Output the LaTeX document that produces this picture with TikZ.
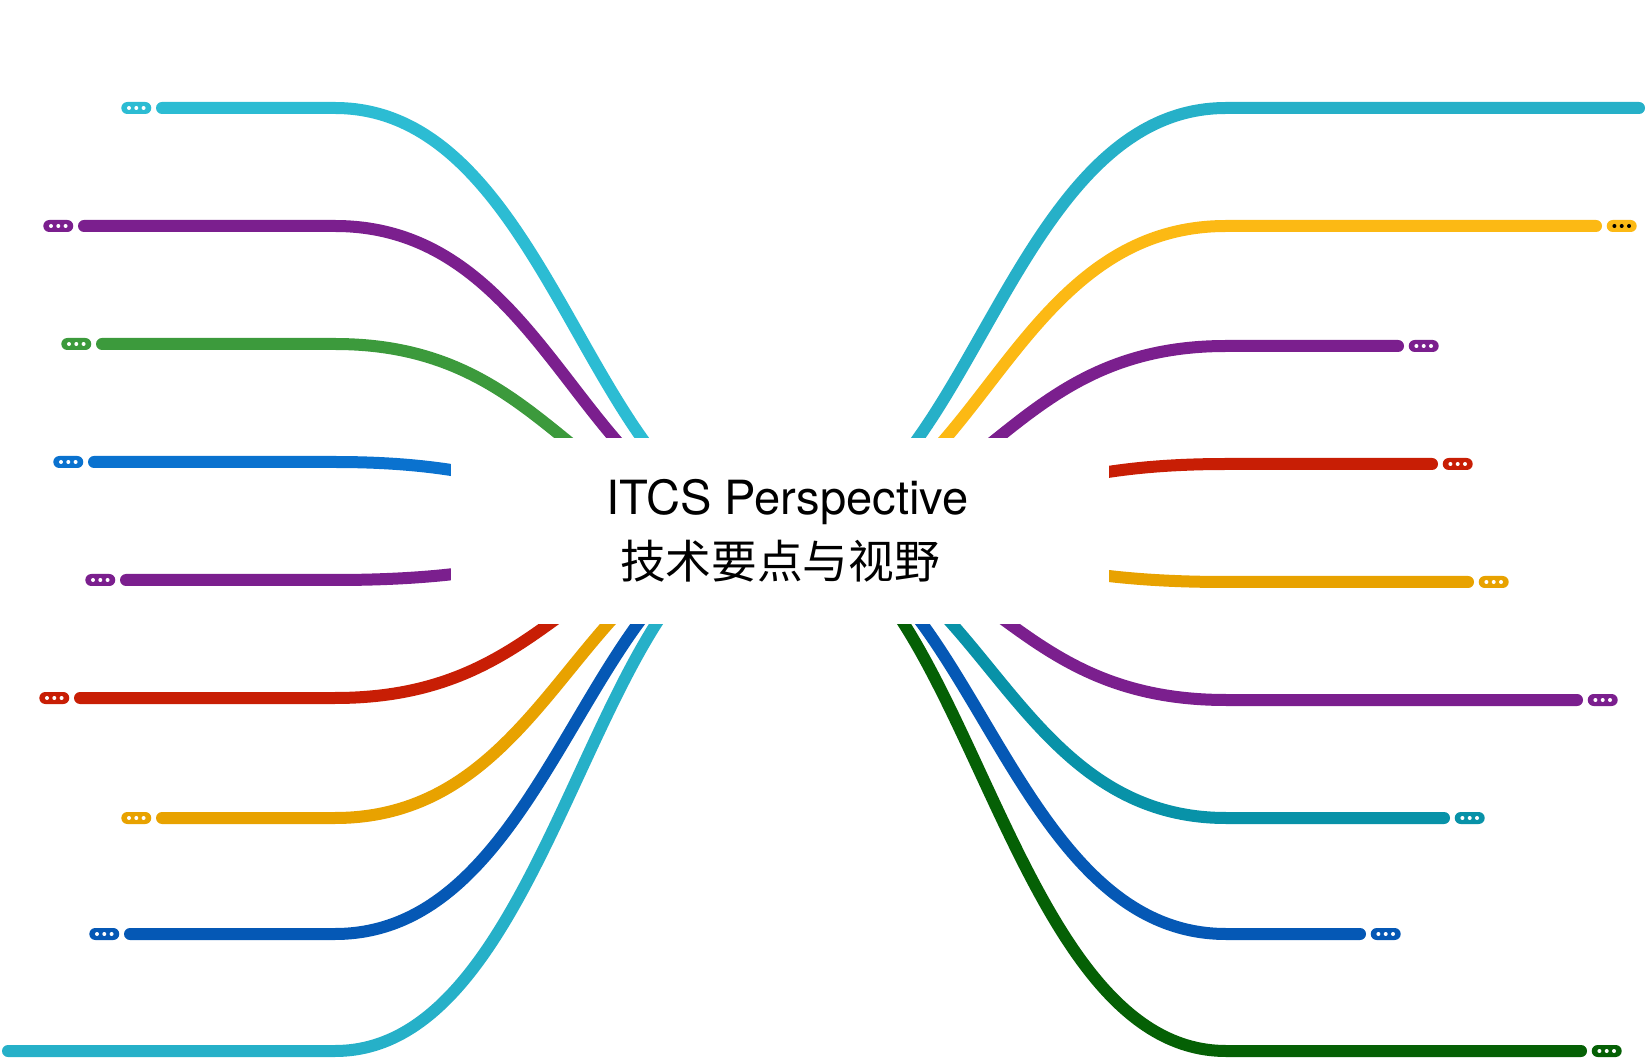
\documentclass[tikz,border=0pt]{standalone}
\usepackage{fontspec}
\setmainfont{TeX Gyre Heros}
\newfontfamily\cjk{Noto Sans CJK SC}
\usetikzlibrary{positioning,backgrounds}

\definecolor{cyanA}{HTML}{2CBCD3}
\definecolor{cyanB}{HTML}{26B0C8}
\definecolor{purple}{HTML}{7B1F8E}
\definecolor{green}{HTML}{3C9A3C}
\definecolor{blueA}{HTML}{0A72CF}
\definecolor{blueB}{HTML}{0558B5}
\definecolor{red}{HTML}{C81E05}
\definecolor{orange}{HTML}{E8A200}
\definecolor{yellow}{HTML}{FCB914}
\definecolor{teal}{HTML}{0892A8}
\definecolor{dgreen}{HTML}{056005}

\begin{document}
\begin{tikzpicture}[x=0.1mm,y=-0.1mm,
  branch/.style={draw=#1,line width=1.2mm,line cap=round},
  more/.style={rectangle,rounded corners=0.6mm,fill=#1,minimum width=3mm,
    minimum height=1.2mm,inner sep=0pt,
    path picture={\foreach \dx in {-0.73mm,0mm,0.73mm}
      \fill[white] ([xshift=\dx]path picture bounding box.center) circle (0.2mm);}},
  moredark/.style={more=#1,
    path picture={\foreach \dx in {-0.73mm,0mm,0.73mm}
      \fill[black] ([xshift=\dx]path picture bounding box.center) circle (0.2mm);}}]
  \useasboundingbox (0,0) rectangle (1650,1062);

  % Root
  \node[fill=white,minimum width=65.8mm,minimum height=18.6mm,align=center,
    font=\fontsize{13pt}{18.2pt}\selectfont] (root) at (780,531)
    {\hspace*{1.5mm}{\fontsize{13.4pt}{18.2pt}\selectfont ITCS Perspective}\\{\cjk 技术要点与视野}};

  % Branch ends
  \coordinate (l1) at (162,108);
  \coordinate (l2) at (84,226);
  \coordinate (l3) at (102,344);
  \coordinate (l4) at (94,462);
  \coordinate (l5) at (126,580);
  \coordinate (l6) at (80,698);
  \coordinate (l7) at (162,818);
  \coordinate (l8) at (130,934);
  \coordinate (l9) at (8,1051);
  \coordinate (r1) at (1639,108);
  \coordinate (r2) at (1596,226);
  \coordinate (r3) at (1398,346);
  \coordinate (r4) at (1432,464);
  \coordinate (r5) at (1468,582);
  \coordinate (r6) at (1577,700);
  \coordinate (r7) at (1444,818);
  \coordinate (r8) at (1360,934);
  \coordinate (r9) at (1581,1051);

  % Branches
  \begin{scope}[on background layer]
    \draw[branch=cyanA]  (root.center) .. controls (592,531) and (557,108) .. (335,108) -- (l1);
    \draw[branch=purple] (root.center) .. controls (583,531) and (557,226) .. (335,226) -- (l2);
    \draw[branch=green]  (root.center) .. controls (573,531) and (557,344) .. (335,344) -- (l3);
    \draw[branch=blueA]  (root.center) .. controls (562,531) and (557,462) .. (335,462) -- (l4);
    \draw[branch=purple] (root.center) .. controls (561,531) and (557,580) .. (335,580) -- (l5);
    \draw[branch=red]    (root.center) .. controls (570,531) and (557,698) .. (335,698) -- (l6);
    \draw[branch=orange] (root.center) .. controls (580,531) and (557,818) .. (335,818) -- (l7);
    \draw[branch=blueB]  (root.center) .. controls (590,531) and (557,934) .. (335,934) -- (l8);
    \draw[branch=cyanB]  (root.center) .. controls (595,531) and (557,1051) .. (335,1051) -- (l9);

    \draw[branch=cyanB]  (root.center) .. controls (968,531) and (1003,108) .. (1226,108) -- (r1);
    \draw[branch=yellow] (root.center) .. controls (977,531) and (1003,226) .. (1226,226) -- (r2);
    \draw[branch=purple] (root.center) .. controls (987,531) and (1003,346) .. (1226,346) -- (r3);
    \draw[branch=red]    (root.center) .. controls (998,531) and (1003,464) .. (1226,464) -- (r4);
    \draw[branch=orange] (root.center) .. controls (999,531) and (1003,582) .. (1226,582) -- (r5);
    \draw[branch=purple] (root.center) .. controls (990,531) and (1003,700) .. (1226,700) -- (r6);
    \draw[branch=teal]   (root.center) .. controls (980,531) and (1003,818) .. (1226,818) -- (r7);
    \draw[branch=blueB]  (root.center) .. controls (970,531) and (1003,934) .. (1226,934) -- (r8);
    \draw[branch=dgreen] (root.center) .. controls (965,531) and (1003,1051) .. (1226,1051) -- (r9);
  \end{scope}

  % Collapsed markers
  \node[more=cyanA,left=1mm of l1]  (ml1) {};
  \node[more=purple,left=1mm of l2] (ml2) {};
  \node[more=green,left=1mm of l3]  (ml3) {};
  \node[more=blueA,left=1mm of l4]  (ml4) {};
  \node[more=purple,left=1mm of l5] (ml5) {};
  \node[more=red,left=1mm of l6]    (ml6) {};
  \node[more=orange,left=1mm of l7] (ml7) {};
  \node[more=blueB,left=1mm of l8]  (ml8) {};

  \node[moredark=yellow,right=1mm of r2] (mr2) {};
  \node[more=purple,right=1mm of r3] (mr3) {};
  \node[more=red,right=1mm of r4]    (mr4) {};
  \node[more=orange,right=1mm of r5] (mr5) {};
  \node[more=purple,right=1mm of r6] (mr6) {};
  \node[more=teal,right=1mm of r7]   (mr7) {};
  \node[more=blueB,right=1mm of r8]  (mr8) {};
  \node[more=dgreen,right=1mm of r9] (mr9) {};
\end{tikzpicture}
\end{document}
